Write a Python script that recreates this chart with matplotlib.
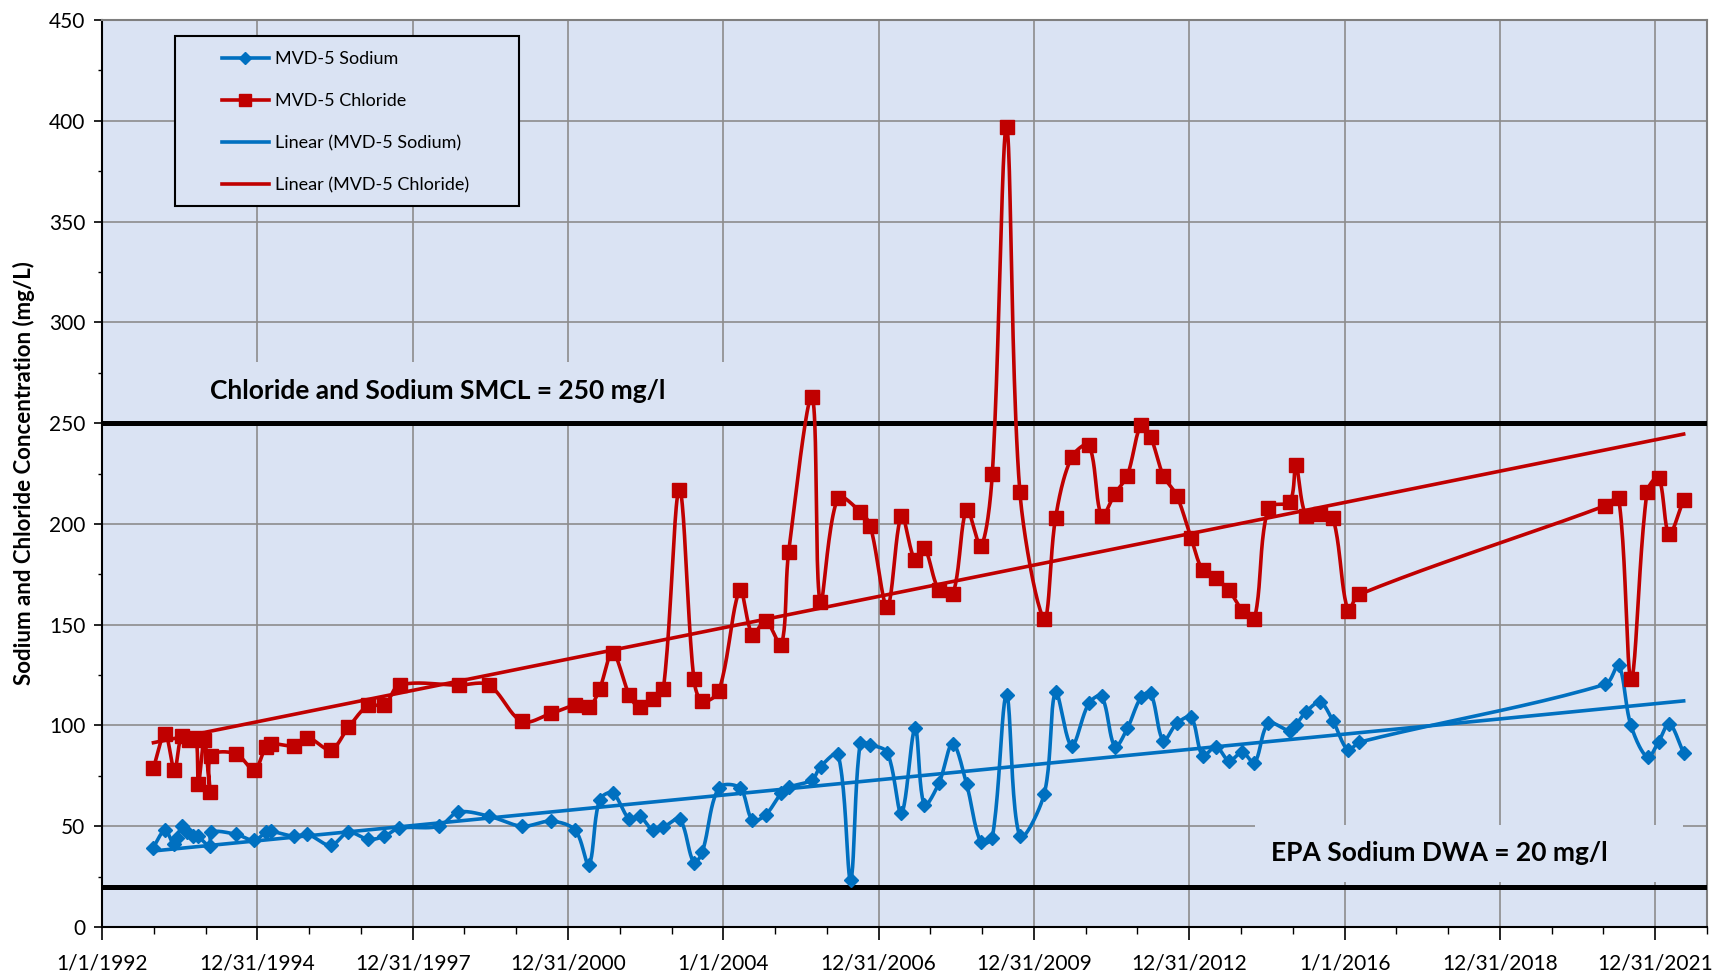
import numpy as np
import matplotlib
matplotlib.use("Agg")
import matplotlib.pyplot as plt
from matplotlib.patches import Rectangle
from matplotlib.ticker import FixedLocator, MultipleLocator
import datetime as dt

plt.rcParams['font.family'] = ['Lato', 'DejaVu Sans']

# ---------------- data (x = days since 1/1/1992) ----------------
cl_days = [363, 445, 511, 562, 616, 663, 680, 722, 762, 769, 945, 1074, 1156, 1192,
           1356, 1449, 1614, 1738, 1879, 1992, 2100, 2518, 2729, 2963, 3170, 3339,
           3435, 3510, 3602, 3721, 3792, 3887, 3960, 4073, 4175, 4234, 4351, 4500,
           4589, 4681, 4792, 4844, 5009, 5067, 5192, 5350, 5420, 5540, 5640, 5735,
           5801, 5905, 6002, 6100, 6201, 6281, 6381, 6475, 6647, 6727, 6840, 6962,
           7052, 7146, 7233, 7330, 7398, 7487, 7582, 7683, 7765, 7859, 7951, 8045,
           8130, 8229, 8380, 8422, 8494, 8594, 8684, 8790, 8870, 10605, 10699, 10788,
           10900, 10982, 11055, 11158]
cl_vals = [79, 96, 78, 95, 93, 94, 71, 93, 67, 85, 86, 78, 89.5, 91,
           90, 94, 88, 99, 110, 110, 120, 120, 120, 102, 106, 110,
           109, 118, 136, 115, 109, 113, 118, 217, 123, 112, 117, 167,
           145, 152, 140, 186, 263, 161, 213, 206, 199, 159, 204, 182,
           188, 167, 165, 207, 189, 225, 397, 216, 153, 203, 233, 239,
           204, 215, 224, 249, 243, 224, 214, 193, 177, 173, 167, 157,
           153, 208, 211, 229, 204, 205, 203, 157, 165, 209, 213, 123,
           216, 223, 195, 212]

na_days = [358, 445, 506, 527, 562, 597, 639, 675, 762, 769, 945, 1074, 1156, 1192,
           1356, 1449, 1614, 1738, 1879, 1992, 2095, 2377, 2513, 2729, 2963, 3170,
           3339, 3435, 3510, 3602, 3721, 3792, 3887, 3960, 4075, 4175, 4234, 4351,
           4500, 4589, 4681, 4792, 4844, 5009, 5069, 5193, 5281, 5349, 5420, 5540,
           5640, 5736, 5801, 5905, 6001, 6099, 6200, 6280, 6381, 6475, 6647, 6727,
           6840, 6962, 7052, 7146, 7233, 7330, 7398, 7487, 7582, 7683, 7765, 7859,
           7951, 8045, 8130, 8229, 8380, 8422, 8495, 8594, 8684, 8790, 8870, 10605,
           10699, 10785, 10903, 10982, 11056, 11158]
na_vals = [39, 48, 41, 44, 50, 47, 45, 45, 40, 47, 46, 43, 47, 47.5,
           45, 46, 40.5, 47, 43.5, 45, 49, 50, 57, 55, 50, 52.5,
           48, 31, 63, 66.5, 53.5, 55, 48, 49.5, 53.5, 32, 37, 69,
           69, 53, 55.6, 66.4, 69.3, 73, 79.6, 85.6, 23.5, 91.2, 90.4, 86.5,
           56.5, 98.7, 60.6, 71.5, 91, 71, 42, 44, 115, 45, 66, 116.5,
           90, 111, 114.5, 89.5, 98.5, 114, 116, 92.5, 101, 104, 85, 89.5,
           82.5, 86.7, 81.5, 101, 97.4, 100.3, 106.8, 111.5, 102.2, 87.8, 91.7, 120.4,
           130, 100.3, 84.2, 92, 100.9, 86.4]

smcl_level = 250
dwa_level = 20
series_names = ["MVD-5 Sodium", "MVD-5 Chloride", "Linear (MVD-5 Sodium)", "Linear (MVD-5 Chloride)"]
smcl_label = "Chloride and Sodium SMCL = 250 mg/l"
dwa_label = "EPA Sodium DWA = 20 mg/l"
y_label = "Sodium and Chloride Concentration (mg/L)"

# ---------------- style ----------------
BG = "#DAE3F3"
BLUE = "#0070C0"
RED = "#C00000"
GRID = "#8C8C8C"

W, H = 1718, 974
fig = plt.figure(figsize=(W / 100, H / 100), dpi=100)
ax_l, ax_r, ax_t, ax_b = 102, 1707, 20, 927
ax = fig.add_axes([ax_l / W, 1 - ax_b / H, (ax_r - ax_l) / W, (ax_b - ax_t) / H])
ax.set_facecolor(BG)

X_MAJOR = 1095.75
X_MAX = 10 * X_MAJOR + 365.25
ax.set_xlim(0, X_MAX)
ax.set_ylim(0, 450)


def ax_frac(px, py):
    return (px - ax_l) / (ax_r - ax_l), (ax_b - py) / (ax_b - ax_t)


def smooth(xd, yd, n=24):
    # Bezier smoothing (spreadsheet style) in screen-proportional space,
    # tangents weighted by neighbouring segment lengths to avoid loops
    sx = (ax_r - ax_l) / X_MAX
    sy = (ax_b - ax_t) / 450.0
    P = np.column_stack([np.asarray(xd, float) * sx, np.asarray(yd, float) * sy])
    E = np.vstack([P[0], P, P[-1]])
    t = np.linspace(0, 1, n)[:, None]
    pts = []
    for i in range(len(P) - 1):
        p0, p1, p2, p3 = E[i], E[i + 1], E[i + 2], E[i + 3]
        d01 = np.hypot(*(p1 - p0))
        d12 = np.hypot(*(p2 - p1))
        d23 = np.hypot(*(p3 - p2))
        w1 = d12 / (d01 + d12) if d01 + d12 > 0 else 0.5
        w2 = d12 / (d12 + d23) if d12 + d23 > 0 else 0.5
        c1 = p1 + (p2 - p0) * w1 / 3.0
        c2 = p2 - (p3 - p1) * w2 / 3.0
        B = (1 - t) ** 3 * p1 + 3 * (1 - t) ** 2 * t * c1 + 3 * (1 - t) * t ** 2 * c2 + t ** 3 * p2
        pts.append(B if i == 0 else B[1:])
    Q = np.vstack(pts)
    return Q[:, 0] / sx, Q[:, 1] / sy


# grid
ax.set_axisbelow(True)
ax.grid(True, which='major', color=GRID, linewidth=1.2, zorder=0)

# text boxes that mask the grid
x0, y0 = ax_frac(190, 421)
x1, y1 = ax_frac(760, 362)
ax.add_patch(Rectangle((x0, y0), x1 - x0, y1 - y0, transform=ax.transAxes,
                       facecolor=BG, edgecolor='none', zorder=1))
x0, y0 = ax_frac(1255, 882)
x1, y1 = ax_frac(1683, 825)
ax.add_patch(Rectangle((x0, y0), x1 - x0, y1 - y0, transform=ax.transAxes,
                       facecolor=BG, edgecolor='none', zorder=1))
tx, ty = ax_frac(210, 391)
ax.text(tx, ty, smcl_label, transform=ax.transAxes, ha='left', va='center',
        fontsize=19, fontweight='bold', zorder=2)
tx, ty = ax_frac(1271, 853)
ax.text(tx, ty, dwa_label, transform=ax.transAxes, ha='left', va='center',
        fontsize=19, fontweight='bold', zorder=2)

# reference lines
ax.axhline(smcl_level, color='black', linewidth=3.6, zorder=3)
ax.axhline(dwa_level, color='black', linewidth=3.6, zorder=3)

# trendlines
for d, v, c in [(na_days, na_vals, BLUE), (cl_days, cl_vals, RED)]:
    k, b = np.polyfit(d, v, 1)
    xx = np.array([min(d), max(d)], float)
    ax.plot(xx, k * xx + b, color=c, linewidth=2.6, zorder=4)

# data series
sxn, syn = smooth(na_days, na_vals)
ax.plot(sxn, syn, color=BLUE, linewidth=2.6, zorder=5)
ax.plot(na_days, na_vals, linestyle='none', marker='D', markersize=7, color=BLUE, zorder=6)
sxc, syc = smooth(cl_days, cl_vals)
ax.plot(sxc, syc, color=RED, linewidth=2.6, zorder=5)
ax.plot(cl_days, cl_vals, linestyle='none', marker='s', markersize=9.5, color=RED, zorder=6)

# axes ticks
majors = [k * X_MAJOR for k in range(11)]
base = dt.date(1992, 1, 1)
labels = []
for m in majors:
    d = base + dt.timedelta(days=int(m))
    labels.append(f"{d.month}/{d.day}/{d.year}")
ax.xaxis.set_major_locator(FixedLocator(majors))
ax.set_xticklabels(labels)
ax.xaxis.set_minor_locator(FixedLocator([k * 365.25 for k in range(32) if k % 3 != 0]))
ax.yaxis.set_major_locator(MultipleLocator(50))
ax.yaxis.set_minor_locator(MultipleLocator(25))
ax.tick_params(axis='x', which='major', length=9, width=1.2, labelsize=15, pad=10, direction='out')
ax.tick_params(axis='x', which='minor', length=5, width=1.0, direction='out')
ax.tick_params(axis='y', which='major', length=6, width=1.2, labelsize=15, pad=6, direction='out')
ax.tick_params(axis='y', which='minor', length=3, width=1.0, direction='out')

ax.set_ylabel(y_label, fontsize=16, fontweight='bold', labelpad=10)

for s in ['left', 'bottom']:
    ax.spines[s].set_color('black')
    ax.spines[s].set_linewidth(1.5)
for s in ['top', 'right']:
    ax.spines[s].set_color('#7F7F7F')
    ax.spines[s].set_linewidth(1.5)

# legend with separate frame
x0, y0 = ax_frac(175, 206)
x1, y1 = ax_frac(519, 36)
ax.add_patch(Rectangle((x0, y0), x1 - x0, y1 - y0, transform=ax.transAxes,
                       facecolor=BG, edgecolor='black', linewidth=1.5, zorder=7))
h1, = ax.plot([], [], color=BLUE, linewidth=2.6, marker='D', markersize=6)
h2, = ax.plot([], [], color=RED, linewidth=2.6, marker='s', markersize=8)
h3, = ax.plot([], [], color=BLUE, linewidth=2.6)
h4, = ax.plot([], [], color=RED, linewidth=2.6)
lx, ly = ax_frac(222, 51)
leg = ax.legend([h1, h2, h3, h4], series_names, loc='upper left',
                bbox_to_anchor=(lx, ly), frameon=False, fontsize=13, borderpad=0,
                borderaxespad=0, handlelength=2.6, handletextpad=0.35,
                labelspacing=1.45, markerscale=1)
leg.set_zorder(8)

fig.savefig("out.png", dpi=100, facecolor='white')
